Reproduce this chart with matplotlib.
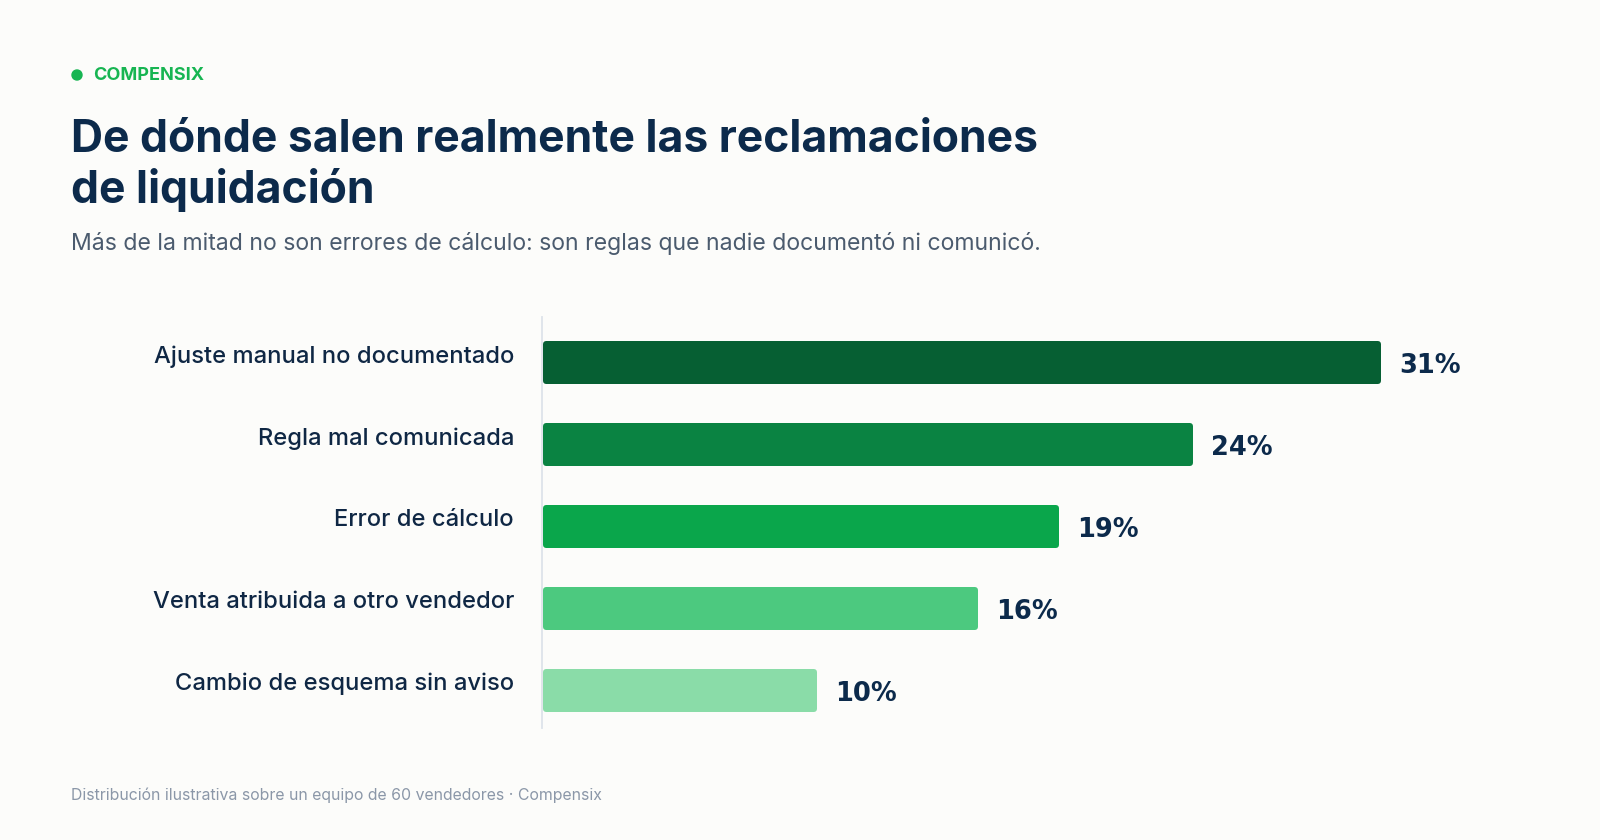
import matplotlib
matplotlib.use('Agg')
import matplotlib.pyplot as plt
from matplotlib.patches import Ellipse

# Chart data
categories = ['Ajuste manual no documentado', 'Regla mal comunicada', 'Error de cálculo',
              'Venta atribuida a otro vendedor', 'Cambio de esquema sin aviso']
shares = [31, 24, 19, 16, 10]
bar_colors = ['#065f33', '#0a8342', '#0aa64b', '#4cc97f', '#8adca8']

brand = 'COMPENSIX'
title_lines = ['De dónde salen realmente las reclamaciones', 'de liquidación']
subtitle = 'Más de la mitad no son errores de cálculo: son reglas que nadie documentó ni comunicó.'
footer = 'Distribución ilustrativa sobre un equipo de 60 vendedores · Compensix'

BG = '#fcfcfa'
NAVY = '#0c2a4b'
W, H = 1600, 840

plt.rcParams['font.family'] = ['Inter', 'DejaVu Sans']

fig = plt.figure(figsize=(W / 100, H / 100), dpi=100, facecolor=BG)

# header
fig.patches.append(Ellipse((77 / W, 1 - 75 / H), 10 / W, 10 / H,
                           transform=fig.transFigure, color='#17b552'))
fig.text(93 / W, 1 - 76 / H, brand, fontsize=13, fontweight='bold', color='#17b552',
         va='center', ha='left')
for i, line in enumerate(title_lines):
    fig.text(71 / W, 1 - (152 + 51 * i) / H, line, fontsize=32, fontweight='bold',
             color=NAVY, va='baseline', ha='left')
fig.text(71 / W, 1 - 250 / H, subtitle, fontsize=16.6, color='#4b5b6e',
         va='baseline', ha='left')
fig.text(71 / W, 1 - 800 / H, footer, fontsize=11.4, color='#8b97a8',
         va='baseline', ha='left')

# bar area
px_per = 26.84
edge_px = 6
ax_left, ax_top, ax_bot = 542, 317, 728
ax = fig.add_axes([ax_left / W, 1 - ax_bot / H, 1000 / W, (ax_bot - ax_top) / H])
ax.set_facecolor(BG)
x0 = -4 / px_per
ax.set_xlim(x0, x0 + 1000 / px_per)
ax.set_ylim(4 + 38 / 82, -45.5 / 82)

ypos = list(range(len(categories)))
ax.barh(ypos, shares, height=(43 - edge_px) / 82, color=bar_colors, edgecolor=bar_colors,
        linewidth=edge_px * 0.72, joinstyle='round')

for y, name, v in zip(ypos, categories, shares):
    ax.annotate(name, xy=(0, y), xytext=(-32, 6), textcoords='offset pixels',
                ha='right', va='center', fontsize=17.1, fontweight='medium', color='#0f2744')
    ax.annotate(f'{v}%', xy=(v, y), xytext=(21, -4), textcoords='offset pixels',
                ha='left', va='center', fontsize=18.5, fontweight='bold', color=NAVY,
                family='DejaVu Sans')

for s in ['top', 'right', 'bottom']:
    ax.spines[s].set_visible(False)
ax.spines['left'].set_color('#dde3ea')
ax.spines['left'].set_linewidth(1.3)
ax.set_xticks([])
ax.set_yticks([])

fig.savefig('out.png', dpi=100, facecolor=BG)
